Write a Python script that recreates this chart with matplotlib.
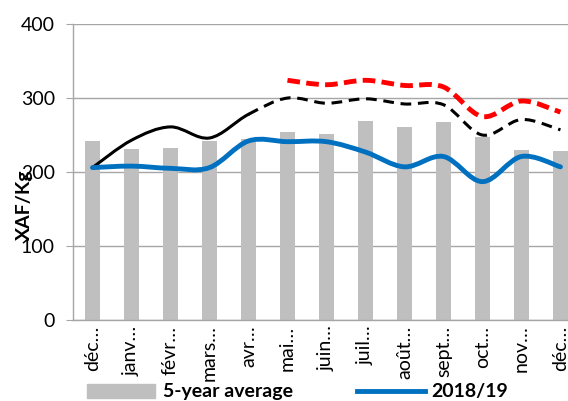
import matplotlib
matplotlib.use("Agg")
import matplotlib.pyplot as plt
from matplotlib.path import Path
from matplotlib.patches import PathPatch, Patch
from matplotlib.lines import Line2D

plt.rcParams["font.family"] = ["Lato", "DejaVu Sans"]

months = ["déc…", "janv…", "févr…", "mars…", "avr…", "mai…", "juin…",
          "juil…", "août…", "sept…", "oct…", "nov…", "déc…"]
avg_5yr = [242, 231, 233, 242, 245, 254, 251, 269, 261, 268, 247, 230, 228]
prices_2018_19 = [206, 208, 205, 206, 242, 241, 241, 227, 207, 221, 187, 221, 207]
# black series: observed up to "avr", projected afterwards
trend = [206, 243, 261, 246, 278, 300, 293, 299, 292, 291, 250, 271, 257]
trend_last_obs = 4
# red projection starts at "mai"
upper_start = 5
upper = [324, 318, 324, 317, 315, 275, 296, 281]

BAR_COLOR = "#bfbfbf"
BLUE = "#0070c0"
GRID = "#a6a6a6"


def smooth_segments(xs, ys):
    """Bezier segments for an Excel-like smoothed line."""
    n = len(xs)
    segs = []
    for i in range(n - 1):
        a, b = max(i - 1, 0), min(i + 2, n - 1)
        x1, y1, x2, y2 = xs[i], ys[i], xs[i + 1], ys[i + 1]
        c1 = (x1 + (x2 - xs[a]) / 6, y1 + (y2 - ys[a]) / 6)
        c2 = (x2 - (xs[b] - x1) / 6, y2 - (ys[b] - y1) / 6)
        segs.append(((x1, y1), c1, c2, (x2, y2)))
    return segs


def draw_segments(ax, segs, **kw):
    verts = [segs[0][0]]
    codes = [Path.MOVETO]
    for s in segs:
        verts += list(s[1:])
        codes += [Path.CURVE4] * 3
    ax.add_patch(PathPatch(Path(verts, codes), fill=False, **kw))


fig = plt.figure(figsize=(5.68, 4.01), dpi=100)
ax = fig.add_axes([0.1285, 0.202, 1.021 - 0.1285, 0.738])

x = list(range(len(months)))
ax.bar(x, avg_5yr, width=0.4, color=BAR_COLOR, zorder=2)

segs = smooth_segments(x, trend)
draw_segments(ax, segs[:trend_last_obs], edgecolor="black", lw=2.2,
              capstyle="round", zorder=3)
draw_segments(ax, segs[trend_last_obs:], edgecolor="black", lw=2.2,
              linestyle=(0, (3.5, 2.2)), zorder=3)

xu = x[upper_start:]
draw_segments(ax, smooth_segments(xu, upper), edgecolor="#ff0000", lw=3.5,
              linestyle=(0, (2.6, 1.3)), zorder=3)

draw_segments(ax, smooth_segments(x, prices_2018_19), edgecolor=BLUE, lw=3.5,
              capstyle="round", zorder=4)

ax.set_xlim(-0.5, len(months) - 0.5)
ax.set_ylim(0, 400)
ax.set_yticks([0, 100, 200, 300, 400])
ax.grid(axis="y", color=GRID, lw=1, zorder=0)
ax.set_axisbelow(True)
for side in ("top", "right"):
    ax.spines[side].set_visible(False)
for side in ("left", "bottom"):
    ax.spines[side].set_color(GRID)
    ax.spines[side].set_linewidth(1)
ax.tick_params(axis="y", length=5, color=GRID, labelsize=14, pad=8)
ax.set_xticks(x)
ax.set_xticklabels(months, rotation=90, fontsize=14)
ax.tick_params(axis="x", length=0, pad=4)

fig.text(24 / 568, 1 - 205 / 401, "XAF/Kg", rotation=90, ha="center",
         va="center", fontsize=14, fontweight="bold")

leg_font = {"size": 14, "weight": "bold"}
fig.legend(handles=[Patch(color=BAR_COLOR)], labels=["5-year average"],
           loc="center left", bbox_to_anchor=(87 / 568, 1 - 392 / 401),
           frameon=False, prop=leg_font, handlelength=3.5, handletextpad=0.4,
           borderpad=0, borderaxespad=0)
fig.legend(handles=[Line2D([], [], color=BLUE, lw=3.5)], labels=["2018/19"],
           loc="center left", bbox_to_anchor=(357 / 568, 1 - 392 / 401),
           frameon=False, prop=leg_font, handlelength=3.5, handletextpad=0.3,
           borderpad=0, borderaxespad=0)

fig.savefig("out.png", dpi=100)
